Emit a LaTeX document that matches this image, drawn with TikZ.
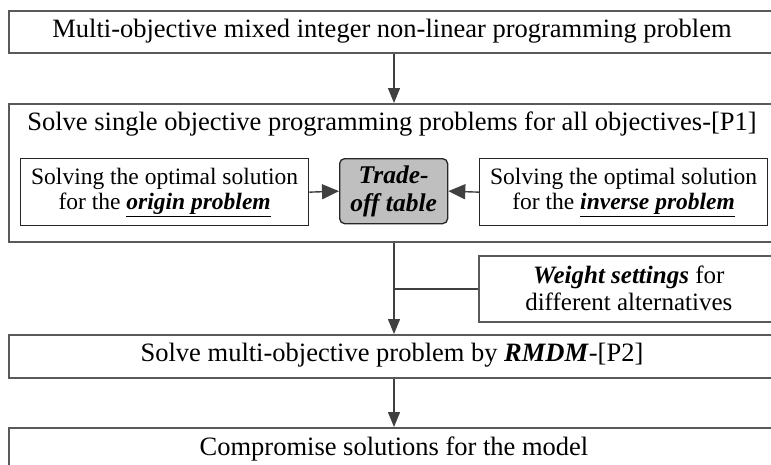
\documentclass[tikz,border=0pt]{standalone}
\usepackage{fontspec}
\setmainfont{Liberation Serif}
\usetikzlibrary{arrows.meta}
\tikzset{
  outerbox/.style={draw=black!65, line width=1.6pt, fill=white, minimum width=768pt, anchor=north west, inner sep=0pt},
  innerbox/.style={draw=black!85, line width=1.3pt, fill=white, anchor=north west, inner sep=0pt, align=center, font=\fontsize{23.5}{25}\selectfont},
  tradebox/.style={draw=black!85, line width=1.3pt, fill=black!25, rounded corners=5pt, anchor=north west, inner sep=0pt, align=center, font=\fontsize{25.5}{28}\selectfont},
  weightbox/.style={draw=black!65, line width=1.6pt, fill=white, anchor=north west, inner sep=0pt, align=center, font=\fontsize{25}{27}\selectfont},
  txt/.style={inner sep=0pt, align=center, font=\fontsize{26.5}{28}\selectfont},
  conn/.style={draw=black!75, line width=1.4pt},
  arr/.style={conn, -{Triangle[length=15pt,width=12pt]}},
  sarr/.style={conn, -{Triangle[length=17pt,width=15pt]}},
}
\begin{document}
\begin{tikzpicture}[x=1pt,y=-1pt]
\useasboundingbox (0,0) rectangle (771,464);
\fill[white] (0,0) rectangle (771,464);
% box 1
\node[outerbox, minimum height=42pt] (b1) at (8,10) {};
\node[txt] (b1t) at (392,31) {Multi-objective mixed integer non-linear programming problem};
% box 2 container
\node[outerbox, minimum height=138pt] (b2) at (8,103) {};
\node[txt] (b2t) at (392,124) {Solve single objective programming problems for all objectives-[P1]};
\node[innerbox, minimum width=288pt, minimum height=67pt] (orig) at (20,158) {Solving the optimal solution\\for the \underline{\textbf{\textit{origin problem}}}};
\node[tradebox, minimum width=108pt, minimum height=65pt] (trade) at (339,158) {\textbf{\textit{Trade-}}\\\textbf{\textit{off table}}};
\node[innerbox, minimum width=288pt, minimum height=67pt] (inv) at (479,158) {Solving the optimal solution\\for the \underline{\textbf{\textit{inverse problem}}}};
% weight box
\node[weightbox, minimum width=300pt, minimum height=66pt] (w) at (478,255) {\textbf{\textit{Weight settings}} for\\different alternatives};
% box 3
\node[outerbox, minimum height=43pt] (b3) at (8,334) {};
\node[txt] (b3t) at (392,355) {Solve multi-objective problem by \textbf{\textit{RMDM}}-[P2]};
% box 4
\node[outerbox, minimum height=45pt] (b4) at (8,427) {};
\node[txt] (b4t) at (394,449) {Compromise solutions for the model};
% connectors
\coordinate (x1) at (394,0);
\draw[arr] (b1.south -| x1) -- (b2.north -| x1);
\draw[sarr] (orig.east) -- (trade.west);
\draw[sarr] (inv.west) -- (trade.east);
\coordinate (j) at (x1 |- w.west);
\draw[arr] (b2.south -| x1) -- (b3.north -| x1);
\draw[conn] (w.west) -- (j);
\draw[arr] (b3.south -| x1) -- (b4.north -| x1);
\end{tikzpicture}
\end{document}
